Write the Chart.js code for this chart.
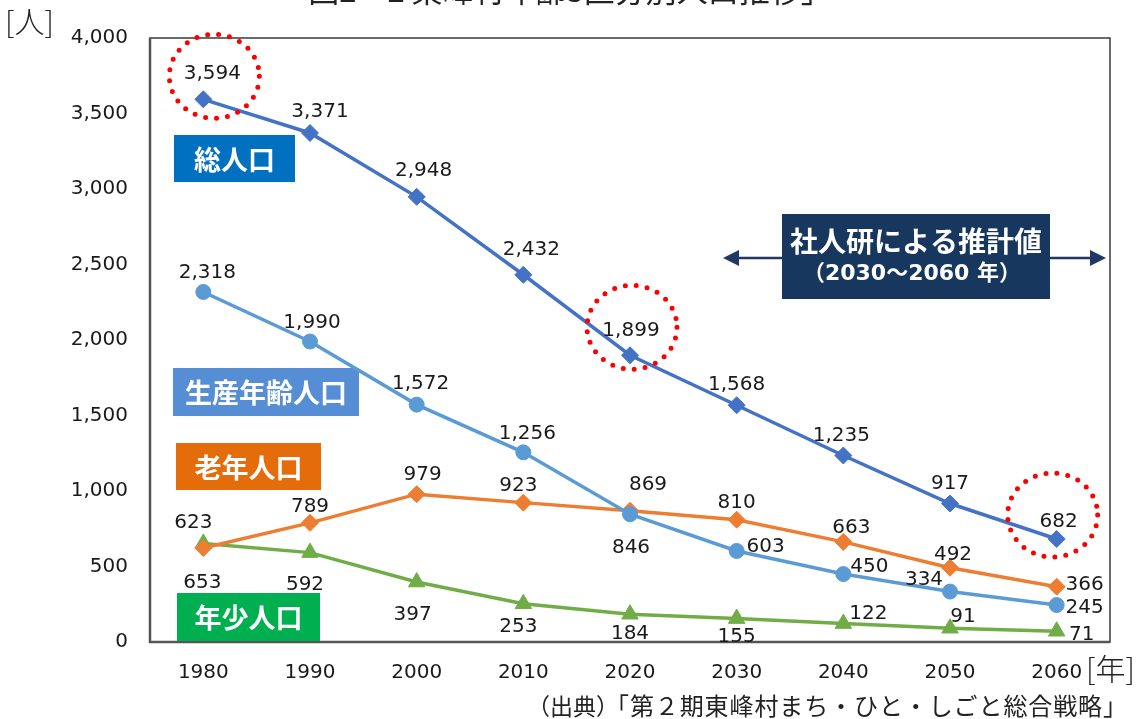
<!DOCTYPE html>
<html><head><meta charset="utf-8">
<script src="https://cdn.jsdelivr.net/npm/chart.js@4.4.0/dist/chart.umd.min.js"></script>
<style>html,body{margin:0;padding:0;background:#fff;overflow:hidden;}</style>
</head><body>
<canvas id="c" width="1146" height="719" style="width:1146px;height:719px;display:block"></canvas>
<script>
// ---- data ----
const years = ['1980','1990','2000','2010','2020','2030','2040','2050','2060'];
const totalPop   = [3594, 3371, 2948, 2432, 1899, 1568, 1235, 917, 682];
const workingPop = [2318, 1990, 1572, 1256, 846, 603, 450, 334, 245];
const elderlyPop = [623, 789, 979, 923, 869, 810, 663, 492, 366];
const youthPop   = [653, 592, 397, 253, 184, 155, 122, 91, 71];
const yTicks = [0, 500, 1000, 1500, 2000, 2500, 3000, 3500, 4000];
const seriesNames = ['総人口', '生産年齢人口', '老年人口', '年少人口'];
const titleText = '図2－2 東峰村年齢3区分別人口推移」';
const yUnit = '[人]';
const xUnit = '[年]';
const sourcePrefix = '（出典）';
const sourceText = '「第２期東峰村まち・ひと・しごと総合戦略」';
const projLine1 = '社人研による推計値';
const projLine2 = '（2030～2060 年）';
const highlightIdx = [0, 4, 8];

// ---- label placement (style: pixel offsets from the point) ----
const labelOffsets = [
  [[9,-26],[10,-21],[7,-26],[8,-25],[1,-24],[0,-20],[-2,-20],[0,-20],[2,-17]],
  [[4,-19],[2,-19],[4,-21],[4,-19],[1,34],[29,-4],[26,-7],[-26,-12],[28,3]],
  [[-10,-25],[0,-16],[6,-19],[-5,-17],[18,-26],[0,-17],[8,-14],[3,-13],[28,-2]],
  [[-1,39],[-5,32],[-4,33],[-5,23],[0,20],[0,18],[25,-10],[13,-11],[25,4]]
];
const circleOffsets = [[11,-23],[2,-28],[-4,-24]];

const NUMFONT = '"DejaVu Sans", Verdana, sans-serif';
const JPFONT = '"Noto Sans CJK JP", "Noto Sans", sans-serif';
const MIXFONT = '"DejaVu Sans", "Noto Sans CJK JP", sans-serif';
const fmt = v => v.toLocaleString('en-US');

const annotations = {
  id: 'annotations',
  beforeDatasetsDraw(chart) {
    const ctx = chart.ctx;
    const a = chart.chartArea;
    ctx.save();
    // frame
    ctx.strokeStyle = '#3a3a3a';
    ctx.lineWidth = 1.5;
    ctx.strokeRect(a.left, a.top, a.right - a.left, a.bottom - a.top);
    ctx.strokeStyle = '#555';
    ctx.lineWidth = 2.5;
    ctx.beginPath();
    ctx.moveTo(a.left, a.top); ctx.lineTo(a.left, a.bottom); ctx.lineTo(a.right, a.bottom);
    ctx.stroke();

    // series name boxes
    const boxes = [
      {t: seriesNames[0], x: 174, y: 135, w: 121, h: 47, bg: '#0070C0'},
      {t: seriesNames[1], x: 173, y: 368, w: 186, h: 48, bg: '#558ED5'},
      {t: seriesNames[2], x: 176, y: 443, w: 145, h: 47, bg: '#E46C0A'},
      {t: seriesNames[3], x: 177, y: 593, w: 143, h: 48, bg: '#00B050'}
    ];
    ctx.textAlign = 'center';
    ctx.textBaseline = 'middle';
    boxes.forEach(b => {
      ctx.fillStyle = b.bg;
      ctx.fillRect(b.x, b.y, b.w, b.h);
      ctx.fillStyle = '#fff';
      ctx.font = 'bold 27px ' + JPFONT;
      ctx.fillText(b.t, b.x + b.w / 2, b.y + b.h / 2 + 1);
    });

    // projection arrow
    const ay = 258, ax1 = 723, ax2 = 1106;
    ctx.strokeStyle = '#1F3864';
    ctx.fillStyle = '#1F3864';
    ctx.lineWidth = 2.5;
    ctx.beginPath(); ctx.moveTo(ax1 + 10, ay); ctx.lineTo(ax2 - 10, ay); ctx.stroke();
    ctx.beginPath(); ctx.moveTo(ax1, ay); ctx.lineTo(ax1 + 16, ay - 8); ctx.lineTo(ax1 + 16, ay + 8); ctx.closePath(); ctx.fill();
    ctx.beginPath(); ctx.moveTo(ax2, ay); ctx.lineTo(ax2 - 16, ay - 8); ctx.lineTo(ax2 - 16, ay + 8); ctx.closePath(); ctx.fill();
    ctx.fillStyle = '#17375E';
    ctx.fillRect(782, 214, 268, 85);
    ctx.fillStyle = '#fff';
    ctx.font = 'bold 28px ' + JPFONT;
    ctx.fillText(projLine1, 916, 241);
    ctx.font = 'bold 22px ' + MIXFONT;
    ctx.fillText(projLine2, 912, 274);
    ctx.restore();
  },
  afterDatasetsDraw(chart) {
    const ctx = chart.ctx;
    ctx.save();
    ctx.font = '20px ' + NUMFONT;
    ctx.fillStyle = '#1a1a1a';
    ctx.textAlign = 'center';
    ctx.textBaseline = 'middle';
    chart.data.datasets.forEach((ds, di) => {
      const meta = chart.getDatasetMeta(di);
      meta.data.forEach((pt, i) => {
        const off = labelOffsets[di][i];
        ctx.fillText(fmt(ds.data[i]), pt.x + off[0], pt.y + off[1]);
      });
    });
    // red dotted highlight circles around total labels
    const m0 = chart.getDatasetMeta(0);
    ctx.strokeStyle = '#FF0000';
    ctx.lineWidth = 5;
    ctx.lineCap = 'round';
    ctx.setLineDash([0, 11]);
    highlightIdx.forEach((i, k) => {
      const pt = m0.data[i];
      const off = circleOffsets[k];
      ctx.beginPath();
      ctx.ellipse(pt.x + off[0], pt.y + off[1], 45, 42, 0, 0, Math.PI * 2);
      ctx.stroke();
    });
    ctx.setLineDash([]);

    // texts outside plot
    ctx.fillStyle = '#222';
    ctx.font = '300 30px ' + JPFONT;
    ctx.textAlign = 'left';
    ctx.fillText(yUnit, 5, 22);
    ctx.fillText(xUnit, 1086, 669);
    ctx.font = '23px ' + JPFONT;
    ctx.fillText(sourcePrefix, 527, 706);
    ctx.font = '24px ' + JPFONT;
    Array.from(sourceText).forEach((ch, i) => {
      ctx.fillText(ch, 605 + i * 24.9, 706);
    });
    ctx.textAlign = 'center';
    ctx.textBaseline = 'alphabetic';
    ctx.font = '31px ' + JPFONT;
    ctx.fillText(titleText, 570, 2);
    ctx.restore();
  }
};

const mk = (label, data, color, style, r) => ({
  label, data,
  borderColor: color, backgroundColor: color,
  borderWidth: 3.5, pointStyle: style, pointRadius: r, pointHoverRadius: r,
  pointBorderWidth: 1, pointBorderColor: color, pointBackgroundColor: color,
  tension: 0, fill: false
});

new Chart(document.getElementById('c'), {
  type: 'line',
  data: {
    labels: years,
    datasets: [
      mk(seriesNames[0], totalPop, '#4472C4', 'rectRot', 8.5),
      mk(seriesNames[1], workingPop, '#5B9BD5', 'circle', 7.5),
      mk(seriesNames[2], elderlyPop, '#ED7D31', 'rectRot', 8.5),
      mk(seriesNames[3], youthPop, '#70AD47', 'triangle', 9.5)
    ]
  },
  options: {
    responsive: false,
    animation: false,
    devicePixelRatio: 1,
    layout: { padding: { top: 38, right: 36, left: 0, bottom: 0 } },
    plugins: { legend: { display: false }, tooltip: { enabled: false }, title: { display: false } },
    scales: {
      x: {
        offset: true,
        grid: { display: false, drawTicks: false },
        border: { display: false },
        ticks: { font: { family: NUMFONT, size: 20 }, color: '#1a1a1a', padding: 19, maxRotation: 0 },
        afterFit: s => { s.height = 77; }
      },
      y: {
        min: 0, max: 4000,
        grid: { display: false, drawTicks: false },
        border: { display: false },
        afterBuildTicks: s => { s.ticks = yTicks.map(v => ({ value: v })); },
        ticks: { font: { family: NUMFONT, size: 20 }, color: '#1a1a1a', padding: 22, callback: v => fmt(v) },
        afterFit: s => { s.width = 150; }
      }
    }
  },
  plugins: [annotations]
});
</script>
</body></html>
